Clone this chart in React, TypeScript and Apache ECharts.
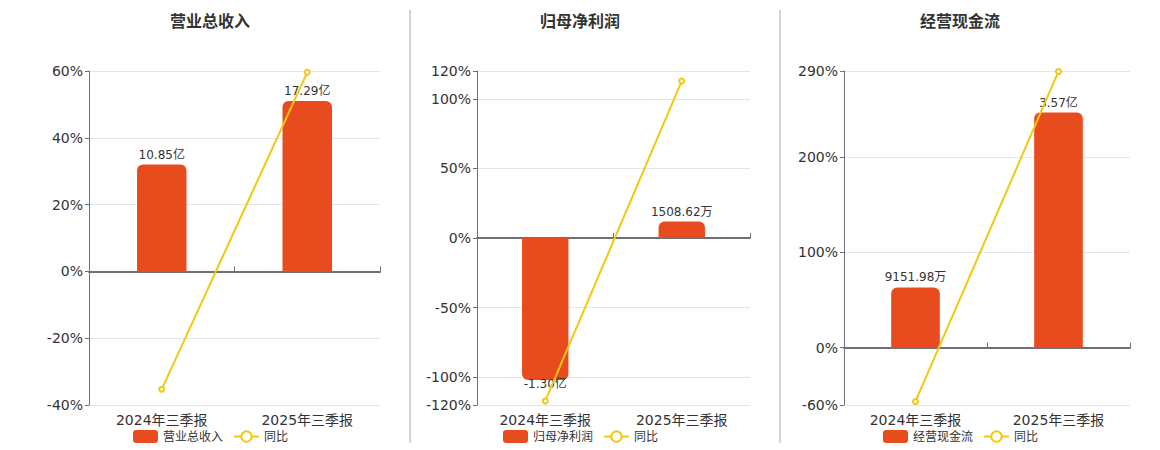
import React, { useEffect, useRef } from "react";
import * as echarts from "echarts";

// 三个面板：营业总收入 / 归母净利润 / 经营现金流
const periods = ["2024年三季报", "2025年三季报"];
const titles = ["营业总收入", "归母净利润", "经营现金流"];

// 金额（单位：亿）
const revenue = [10.85, 17.29];
const netProfit = [-1.3, 0.150862];
const cashFlow = [0.915198, 3.57];

// 同比（%）
const revenueYoy = [-35.3, 59.6];
const netProfitYoy = [-117.1, 112.8];
const cashFlowYoy = [-56.3, 289.5];

// 左轴刻度
const revenueTicks = [-40, -20, 0, 20, 40, 60];
const netProfitTicks = [-120, -100, -50, 0, 50, 100, 120];
const cashFlowTicks = [-60, 0, 100, 200, 290];

const amounts = [revenue, netProfit, cashFlow];
const yoys = [revenueYoy, netProfitYoy, cashFlowYoy];
const ticks = [revenueTicks, netProfitTicks, cashFlowTicks];

const BAR_COLOR = "#e84c1e";
const LINE_COLOR = "#f2c811";
const TEXT = "#333";
const AXIS = "#6e7079";
const FONT = "'DejaVu Sans', 'Noto Sans CJK SC', sans-serif";

// 面板几何
const grids = [
  { left: 89, width: 291 },
  { left: 477, width: 273 },
  { left: 844, width: 286 },
];
const centers = [210, 580, 960];

const fmtMoney = (v: number) =>
  Math.abs(v) >= 1 ? v.toFixed(2) + "亿" : (v * 10000).toFixed(2) + "万";

const App: React.FC = () => {
  const chartRef: any = useRef();

  useEffect(() => {
    document.body.style.margin = "0";
    const chart = echarts.init(chartRef.current, null, { renderer: "svg" });

    const xAxis: any[] = [];
    const yAxis: any[] = [];
    const series: any[] = [];

    amounts.forEach((vals, i) => {
      const tv = ticks[i];
      const pMin = tv[0];
      const pMax = tv[tv.length - 1];
      // 柱子的隐藏轴：与左轴零点对齐，最大柱占到约85%
      let s = 0;
      vals.forEach((v) => {
        const side = v >= 0 ? pMax : -pMin;
        s = Math.max(s, Math.abs(v) / (0.85 * side));
      });

      xAxis.push({
        type: "category",
        gridIndex: i,
        data: periods,
        axisLine: { show: false, onZero: false },
        axisTick: { show: false },
        axisLabel: { color: TEXT, fontSize: 14, margin: 8, fontFamily: FONT },
      });
      xAxis.push({
        type: "category",
        gridIndex: i,
        data: periods,
        axisLine: { show: true, onZero: true, lineStyle: { color: AXIS, width: 2 } },
        axisTick: { show: true, length: 5, lineStyle: { color: AXIS } },
        axisLabel: { show: false },
      });

      yAxis.push({
        type: "value",
        gridIndex: i,
        min: pMin,
        max: pMax,
        axisLine: { show: true, lineStyle: { color: AXIS } },
        axisTick: { show: true, length: 4, customValues: tv, lineStyle: { color: AXIS } },
        axisLabel: {
          color: TEXT,
          fontSize: 14,
          margin: 6,
          fontFamily: FONT,
          customValues: tv,
          formatter: "{value}%",
        },
        splitLine: { show: true, lineStyle: { color: "#e0e6f1" } },
      });
      yAxis.push({
        type: "value",
        gridIndex: i,
        min: pMin * s,
        max: pMax * s,
        show: false,
        splitLine: { show: false },
      });

      series.push({
        name: titles[i],
        type: "bar",
        xAxisIndex: 2 * i,
        yAxisIndex: 2 * i + 1,
        barWidth: "34%",
        itemStyle: { color: BAR_COLOR },
        data: vals.map((v) => ({
          value: v,
          itemStyle: {
            color: BAR_COLOR,
            borderRadius: v >= 0 ? [6, 6, 0, 0] : [0, 0, 6, 6],
          },
          label: v >= 0 ? { position: "top", distance: 4 } : { position: "bottom", distance: -2 },
        })),
        label: {
          show: true,
          color: TEXT,
          fontSize: 12,
          fontFamily: FONT,
          formatter: (p: any) => fmtMoney(p.value),
        },
      });
      series.push({
        name: "同比",
        type: "line",
        xAxisIndex: 2 * i,
        yAxisIndex: 2 * i,
        data: yoys[i],
        symbol: "emptyCircle",
        symbolSize: 5,
        itemStyle: { color: LINE_COLOR },
        lineStyle: { color: LINE_COLOR, width: 2 },
        z: 3,
      });
    });

    const option = {
      animation: false,
      textStyle: { fontFamily: FONT },
      title: titles.map((t, i) => ({
        text: t,
        left: centers[i] - 5,
        top: 8,
        textAlign: "center",
        textStyle: { color: TEXT, fontSize: 16, fontWeight: "bold", fontFamily: FONT },
      })),
      legend: titles.map((t, i) => ({
        data: [t, "同比"],
        left: centers[i] - 82,
        top: 425,
        itemWidth: 25,
        itemHeight: 13,
        itemGap: 10,
        textStyle: { color: TEXT, fontSize: 12, fontFamily: FONT },
      })),
      grid: grids.map((g) => ({
        left: g.left,
        width: g.width,
        top: 71,
        bottom: 45,
      })),
      graphic: [410, 780].map((x) => ({
        type: "line",
        shape: { x1: x, y1: 10, x2: x, y2: 443 },
        style: { stroke: "#aaa", lineWidth: 1 },
      })),
      xAxis,
      yAxis,
      series,
    };
    chart.setOption(option);
    return () => {
      chart.dispose();
    };
  }, []);

  return <div ref={chartRef} style={{ width: 1160, height: 450 }}></div>;
};

export default App;
